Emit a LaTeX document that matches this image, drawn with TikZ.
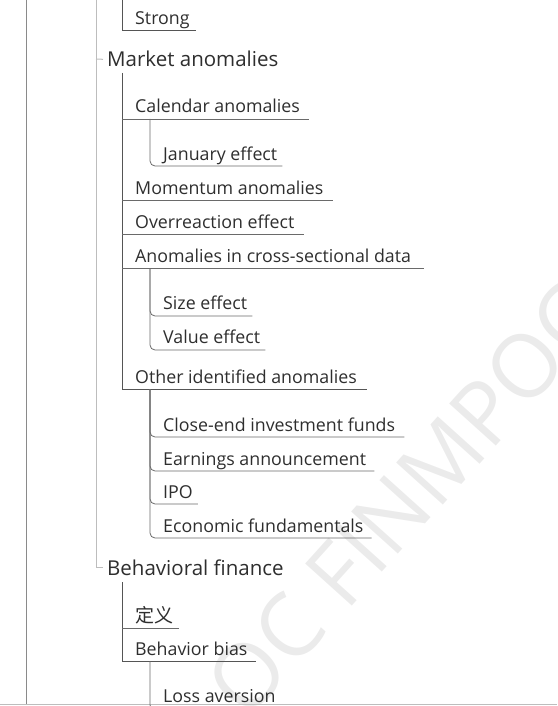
\documentclass[tikz,border=0pt]{standalone}
\usepackage{fontspec}
\setmainfont{Open Sans}
\newfontfamily\cjk{Noto Sans CJK SC}
\usetikzlibrary{calc}
\definecolor{txt}{HTML}{2E2E2E}
\definecolor{darkln}{HTML}{555555}
\definecolor{ulc}{HTML}{6A6A6A}
\definecolor{lightln}{HTML}{BDBDBD}
\definecolor{edgeln}{HTML}{8A8A8A}
\definecolor{wm}{HTML}{EBEBEB}
\begin{document}
\begin{tikzpicture}[x=1pt,y=-1pt,
  lbl/.style={anchor=base west, inner sep=0pt, text=txt, font=\fontsize{17.8}{20}\selectfont},
  big/.style={anchor=base west, inner sep=0pt, text=txt, font=\fontsize{20.5}{24}\selectfont},
  trunk/.style={draw=darkln, line width=0.9pt},
  ul/.style={draw=ulc, line width=0.8pt},
  sub/.style={draw=ulc, line width=0.8pt, rounded corners=5pt},
  gtrunk/.style={draw=lightln, line width=1pt},
  edge/.style={draw=edgeln, line width=0.9pt},
  wmark/.style={text=wm, font=\fontsize{88}{90}\selectfont, inner sep=0pt}
]
\useasboundingbox (0,0) rectangle (557,706);
% watermark
\node[wmark, rotate=48] (wmk) at (405,500) {OC FINMPOC};

% frame lines
\coordinate (edgetop) at (26,0);
\coordinate (edgebot) at (26,704);
\coordinate (bl) at (0,704);
\coordinate (br) at (557,704);
\draw[edge] (edgetop) -- (edgebot);
\draw[draw=lightln, line width=1pt] (bl) -- (br);

% grey trunk
\coordinate (gtop) at (96,0);
\node[big] (ma) at (107,67) {Market anomalies};
\node[big] (bf) at (107,575) {Behavioral finance};
\draw[gtrunk] (gtop) |- ([xshift=-4pt]bf.west);
\draw[gtrunk] (96,59) -- ([xshift=-4pt]ma.west);

% Strong
\coordinate (stop) at (122,0);
\node[lbl] (strong) at (135,25) {Strong};
\draw[trunk] (stop) |- ($(strong.base east)+(6pt,-5pt)$);

% Market anomalies children
\coordinate (mtop) at (122,73);
\node[lbl] (cal) at (135,113) {Calendar anomalies};
\node[lbl] (jan) at (163,160) {January effect};
\node[lbl] (mom) at (135,194) {Momentum anomalies};
\node[lbl] (ovr) at (135,228) {Overreaction effect};
\node[lbl] (acs) at (135,262) {Anomalies in cross-sectional data};
\node[lbl] (size) at (163,309) {Size effect};
\node[lbl] (val) at (163,343) {Value effect};
\node[lbl] (oth) at (135,383) {Other identified anomalies};
\node[lbl] (cef) at (163,431) {Close-end investment funds};
\node[lbl] (ear) at (163,465) {Earnings announcement};
\node[lbl] (ipo) at (163,498) {IPO};
\node[lbl] (eco) at (163,532) {Economic fundamentals};

\draw[trunk] (mtop) |- ($(oth.base east)+(10pt,-6pt)$);
\draw[ul] ($(cal.base west)+(-13pt,-6pt)$) -- ($(cal.base east)+(9pt,-6pt)$);
\draw[ul] ($(mom.base west)+(-13pt,-6pt)$) -- ($(mom.base east)+(9pt,-6pt)$);
\draw[ul] ($(ovr.base west)+(-13pt,-6pt)$) -- ($(ovr.base east)+(9pt,-6pt)$);
\draw[ul] ($(acs.base west)+(-13pt,-6pt)$) -- ($(acs.base east)+(13pt,-6pt)$);

\coordinate (calsub) at (150,119);
\draw[sub] (calsub) |- ($(jan.base east)+(5pt,-6pt)$);
\coordinate (acssub) at (150,268);
\draw[sub] (acssub) |- ($(size.base east)+(5pt,-7pt)$);
\draw[sub] (acssub) |- ($(val.base east)+(5pt,-7pt)$);
\coordinate (othsub) at (150,389);
\draw[sub] (othsub) |- ($(cef.base east)+(9pt,-6pt)$);
\draw[sub] (othsub) |- ($(ear.base east)+(8pt,-6pt)$);
\draw[sub] (othsub) |- ($(ipo.base east)+(5pt,-6pt)$);
\draw[sub] (othsub) |- ($(eco.base east)+(8pt,-6pt)$);

% Behavioral finance children
\coordinate (btop) at (122,582);
\node[lbl, font=\cjk\fontsize{19}{22}\selectfont] (def) at (135,622) {定义};
\node[lbl] (bb) at (135,655) {Behavior bias};
\node[lbl] (loss) at (163,702) {Loss aversion};
\draw[trunk] (btop) |- ($(bb.base east)+(8pt,-6pt)$);
\draw[ul] ($(def.base west)+(-13pt,-6pt)$) -- ($(def.base east)+(6pt,-6pt)$);
\coordinate (bbsub) at (150,661);
\draw[sub] (bbsub) |- ($(loss.base east)+(8pt,-8pt)$);
\end{tikzpicture}
\end{document}
